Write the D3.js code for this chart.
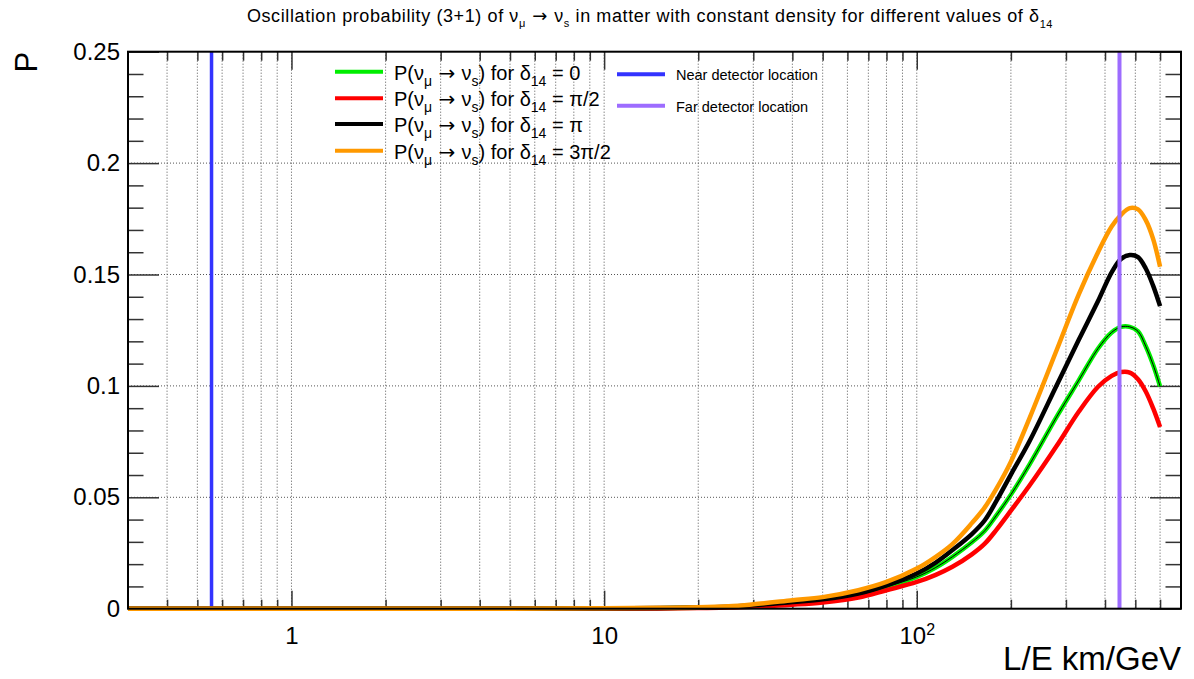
<!doctype html>
<html>
<head>
<meta charset="UTF-8">
<title>Oscillation probability (3+1)</title>
<style>
    body { margin: 0; background: #fff; }
    svg text { font-family: "Liberation Sans", Arial, Helvetica, sans-serif; fill: #000; }
    .arrow { font-family: "DejaVu Sans", sans-serif; }
    .grid line { stroke: #555; stroke-width: 1; stroke-dasharray: 1,2; }
    .ax path { display: none; }
    .ax line { stroke: #333; stroke-width: 1.5; }
    .ax text { font-size: 24px; }
</style>
</head>
<body>
<svg id="chart" width="1194" height="679"></svg>
<script src="https://cdn.jsdelivr.net/npm/d3@7"></script>
<script>
// L/E (km/GeV) sample points
var LE = [0.3, 5, 10, 15, 20, 25, 30, 40, 50, 65, 80, 100, 115, 130, 150, 165, 180, 200, 230, 280, 330, 380, 420, 450, 480, 510, 540, 570, 600];

// P(nu_mu -> nu_s) for each delta_14
var P_d0      = [0, 0, 0.0001, 0.0002, 0.0004, 0.0007, 0.0012, 0.0024, 0.0037, 0.0060, 0.0098, 0.0143, 0.0185, 0.0233, 0.0298, 0.0350, 0.0420, 0.0512, 0.0650, 0.0861, 0.1026, 0.1168, 0.1240, 0.1265, 0.1265, 0.1245, 0.1178, 0.1095, 0.0998];
var P_dPi2    = [0, 0, 0, 0.0001, 0.0003, 0.0005, 0.0009, 0.0018, 0.0028, 0.0050, 0.0083, 0.0120, 0.0152, 0.0188, 0.0244, 0.0292, 0.0355, 0.0440, 0.0555, 0.0730, 0.0885, 0.0996, 0.1045, 0.1062, 0.1060, 0.1030, 0.0975, 0.0900, 0.0815];
var P_dPi     = [0, 0, 0.0001, 0.0003, 0.0005, 0.0009, 0.0015, 0.0030, 0.0042, 0.0068, 0.0105, 0.0158, 0.0207, 0.0263, 0.0335, 0.0397, 0.0485, 0.0602, 0.0755, 0.1002, 0.1208, 0.1381, 0.1510, 0.1570, 0.1587, 0.1578, 0.1527, 0.1450, 0.1358];
var P_d3Pi2   = [0, 0, 0.0002, 0.0004, 0.0006, 0.0011, 0.0020, 0.0038, 0.0052, 0.0083, 0.0120, 0.0180, 0.0233, 0.0290, 0.0384, 0.0455, 0.0540, 0.0660, 0.0859, 0.1160, 0.1412, 0.1600, 0.1715, 0.1768, 0.1798, 0.1792, 0.1744, 0.1660, 0.1535];

// detector locations in L/E
var nearLE = 0.555;
var farLE = 445;

var seriesNames = ["0", "\u03c0/2", "\u03c0", "3\u03c0/2"];
var seriesColors = ["#00ee00", "#ff0000", "#000000", "#ff9900"];
var yMajor = [0, 0.05, 0.1, 0.15, 0.2, 0.25];
var xLabelVals = [1, 10, 100];

var svg = d3.select("#chart");
var padL = 128, padR = 1181, padT = 51.7, padB = 608.7;

var x = d3.scaleLog().domain([0.3, 700]).range([padL, padR]);
var y = d3.scaleLinear().domain([0, 0.25]).range([padB, padT]);

var allX = x.ticks().filter(function(v) { return v > 0.3 && v < 700; });
var isMajor = function(v) { return Math.abs(Math.log10(v) - Math.round(Math.log10(v))) < 1e-9; };
var xMinor = allX.filter(function(v) { return !isMajor(v); });
var yMinor = d3.range(1, 25).map(function(i) { return i / 100; }).filter(function(v) { return Math.round(v * 100) % 5 != 0; });

// grid
var grid = svg.append("g").attr("class", "grid");
grid.selectAll(".gx").data(allX).enter().append("line")
    .attr("x1", d => x(d)).attr("x2", d => x(d))
    .attr("y1", padT).attr("y2", padB);
grid.selectAll(".gy").data(yMajor.slice(1, -1)).enter().append("line")
    .attr("x1", padL).attr("x2", padR)
    .attr("y1", d => y(d)).attr("y2", d => y(d));

// axes (ticks inward like ROOT)
svg.append("g").attr("class", "ax").attr("transform", "translate(0," + padB + ")")
    .call(d3.axisBottom(x).tickValues(xMinor).tickSize(-9).tickFormat(""));
var xb = svg.append("g").attr("class", "ax").attr("transform", "translate(0," + padB + ")")
    .call(d3.axisBottom(x).tickValues(xLabelVals).tickSize(-18).tickPadding(18).tickFormat(d3.format("d")));
xb.selectAll("text").filter(d => d == 100).text("10")
    .append("tspan").attr("dy", "-0.55em").attr("font-size", "16px").text("2");
svg.append("g").attr("class", "ax").attr("transform", "translate(0," + padT + ")")
    .call(d3.axisTop(x).tickValues(xMinor).tickSize(-9).tickFormat(""));
svg.append("g").attr("class", "ax").attr("transform", "translate(0," + padT + ")")
    .call(d3.axisTop(x).tickValues(xLabelVals).tickSize(-18).tickFormat(""));

svg.append("g").attr("class", "ax").attr("transform", "translate(" + padL + ",0)")
    .call(d3.axisLeft(y).tickValues(yMinor).tickSize(-15.5).tickFormat(""));
svg.append("g").attr("class", "ax").attr("transform", "translate(" + padL + ",0)")
    .call(d3.axisLeft(y).tickValues(yMajor).tickSize(-31).tickPadding(8).tickFormat(d => d == 0 ? "0" : String(d)));
svg.append("g").attr("class", "ax").attr("transform", "translate(" + padR + ",0)")
    .call(d3.axisRight(y).tickValues(yMinor).tickSize(-15.5).tickFormat(""));
svg.append("g").attr("class", "ax").attr("transform", "translate(" + padR + ",0)")
    .call(d3.axisRight(y).tickValues(yMajor).tickSize(-31).tickFormat(""));

// near detector line
svg.append("line")
    .attr("x1", x(nearLE)).attr("x2", x(nearLE)).attr("y1", padT).attr("y2", padB)
    .style("stroke", "#3333ff").style("stroke-width", 3.5);

// curves
var line = d3.line()
    .x(function(d) { return x(d[0]); })
    .y(function(d) { return y(d[1]); })
    .curve(d3.curveCatmullRom.alpha(0.5));

var seriesVals = [P_d0, P_dPi2, P_dPi, P_d3Pi2];
seriesVals.forEach(function(vals, i) {
    var pts = LE.map(function(l, j) { return [l, vals[j]]; });
    svg.append("path").datum(pts)
        .attr("d", line)
        .style("fill", "none")
        .style("stroke", seriesColors[i])
        .style("stroke-width", 4.5)
        .style("stroke-linejoin", "round");
    if (i == 0) {
        svg.append("path").datum(pts)
            .attr("d", line)
            .style("fill", "none").style("stroke", "#000").style("stroke-width", 1);
    }
});

// far detector line
svg.append("line")
    .attr("x1", x(farLE)).attr("x2", x(farLE)).attr("y1", padT).attr("y2", padB)
    .style("stroke", "#9d6cff").style("stroke-width", 4);

// frame
svg.append("rect")
    .attr("x", padL).attr("y", padT).attr("width", padR - padL).attr("height", padB - padT)
    .style("fill", "none").style("stroke", "#000").style("stroke-width", 2);

// title
var title = svg.append("text").attr("x", 650).attr("y", 22)
    .attr("text-anchor", "middle").style("font-size", "18px").style("letter-spacing", "0.6px");
title.append("tspan").text("Oscillation probability (3+1) of \u03bd");
title.append("tspan").attr("dy", 5).style("font-size", "11px").text("\u03bc");
title.append("tspan").attr("dy", -5).attr("class", "arrow").text("  \u2192  ");
title.append("tspan").text("\u03bd");
title.append("tspan").attr("dy", 5).style("font-size", "11px").text("s");
title.append("tspan").attr("dy", -5).text(" in matter with constant density for different values of \u03b4");
title.append("tspan").attr("dy", 6).style("font-size", "11px").text("14");

// axis titles
svg.append("text")
    .attr("transform", "translate(37," + padT + ") rotate(-90)")
    .attr("text-anchor", "end")
    .style("font-size", "31px")
    .text("P");
svg.append("text")
    .attr("x", padR).attr("y", 670)
    .attr("text-anchor", "end")
    .style("font-size", "33px")
    .text("L/E km/GeV");

// legend (curves)
var legRows = [71.7, 98.3, 124, 150.7];
seriesNames.forEach(function(name, i) {
    var ly = legRows[i];
    svg.append("line").attr("x1", 335).attr("x2", 383).attr("y1", ly).attr("y2", ly)
        .style("stroke", seriesColors[i]).style("stroke-width", 4);
    var t = svg.append("text").attr("x", 394).attr("y", ly + 8).style("font-size", "20px");
    t.append("tspan").text("P(\u03bd");
    t.append("tspan").attr("dy", 6).style("font-size", "14px").text("\u03bc");
    t.append("tspan").attr("dy", -6).attr("class", "arrow").text(" \u2192 ");
    t.append("tspan").text("\u03bd");
    t.append("tspan").attr("dy", 6).style("font-size", "14px").text("s");
    t.append("tspan").attr("dy", -6).text(") for \u03b4");
    t.append("tspan").attr("dy", 6).style("font-size", "14px").text("14");
    t.append("tspan").attr("dy", -6).text(" = " + name);
});

// legend (detectors)
var detNames = ["Near detector location", "Far detector location"];
var detColors = ["#3333ff", "#9d6cff"];
var detRows = [74.3, 105.7];
detNames.forEach(function(name, i) {
    svg.append("line").attr("x1", 617).attr("x2", 665).attr("y1", detRows[i]).attr("y2", detRows[i])
        .style("stroke", detColors[i]).style("stroke-width", 4);
    svg.append("text").attr("x", 676).attr("y", detRows[i] + 6).style("font-size", "14.5px").text(name);
});
</script>
</body>
</html>
